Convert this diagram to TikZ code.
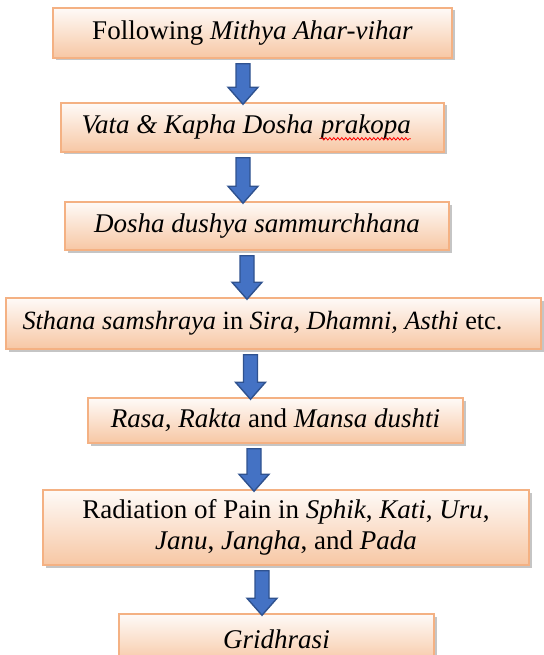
\documentclass[tikz,border=0pt]{standalone}
\usepackage{fontspec}
\setmainfont{Liberation Serif}
\usepackage{xcolor}
\usetikzlibrary{calc,shadows,decorations.pathmorphing}
\definecolor{peach}{HTML}{F7C7A4}
\definecolor{peachline}{HTML}{F4B183}
\definecolor{arrowblue}{HTML}{4472C4}
\definecolor{arrowline}{HTML}{2F528F}
\newcommand{\redwave}[1]{\tikz[baseline=(w.base)]{\node[inner sep=0pt,minimum width=0pt,minimum height=0pt,
    draw=none,shade=false,fill=none,anchor=base] (w) {#1};
  \draw[red,line width=0.8pt,decorate,decoration={snake,amplitude=1.2pt,segment length=4pt}]
    ([yshift=-5.5pt]w.base west) -- ([yshift=-5.5pt]w.base east);}}
\newcommand{\flowarrow}[3]{%
  \draw[blockarrow] let \p1=(#2.south), \p2=(#3.north) in
    ({#1pt-7pt},{\y1-5pt}) -- ({#1pt+7pt},{\y1-5pt}) -- ({#1pt+7pt},{\y2+15pt})
    -- ({#1pt+15pt},{\y2+15pt}) -- (#1pt,{\y2-2pt}) -- ({#1pt-15pt},{\y2+15pt})
    -- ({#1pt-7pt},{\y2+15pt}) -- cycle;}

\begin{document}
\begin{tikzpicture}[x=1pt,y=-1pt,
    box/.style={draw=peachline,line width=1.5pt,top color=peach!8!white,bottom color=peach,
      drop shadow={shadow xshift=2.5pt,shadow yshift=-2.5pt,fill=black!45},
      inner sep=2pt,align=center,font=\fontsize{27}{31}\selectfont},
    blockarrow/.style={fill=arrowblue,draw=arrowline,line width=1.4pt,line join=miter}]
    \useasboundingbox (0,0) rectangle (543,655);
    \node[box,minimum width=399,minimum height=50] (A) at (252.5,33) {Following \textit{Mithya Ahar-vihar}};
    \node[box,minimum width=383,minimum height=49] (B) at (252.5,127.5) {\textit{Vata \& Kapha Dosha \redwave{prakopa}}\hspace*{12pt}};
    \node[box,minimum width=384,minimum height=48] (C) at (257,226) {\textit{Dosha dushya sammurchhana}};
    \node[box,minimum width=535,minimum height=51,font=\fontsize{26.3}{30}\selectfont] (D) at (273.5,323.5)
      {\textit{Sthana samshraya} in \textit{Sira, Dhamni, Asthi} etc.\hspace*{22pt}};
    \node[box,minimum width=375,minimum height=45] (E) at (275.5,420.5) {\textit{Rasa, Rakta} and \textit{Mansa dushti}};
    \node[box,minimum width=486,minimum height=75] (F) at (286,527.5) {Radiation of Pain in \textit{Sphik}, \textit{Kati}, \textit{Uru},\\ \textit{Janu}, \textit{Jangha}, and \textit{Pada}};
    \node[box,minimum width=315,minimum height=50] (G) at (276.5,639) {\textit{Gridhrasi}};
    % arrows between the boxes
    \flowarrow{243}{A}{B}
    \flowarrow{243}{B}{C}
    \flowarrow{247}{C}{D}
    \flowarrow{250.5}{D}{E}
    \flowarrow{254}{E}{F}
    \flowarrow{262}{F}{G}
\end{tikzpicture}
\end{document}
